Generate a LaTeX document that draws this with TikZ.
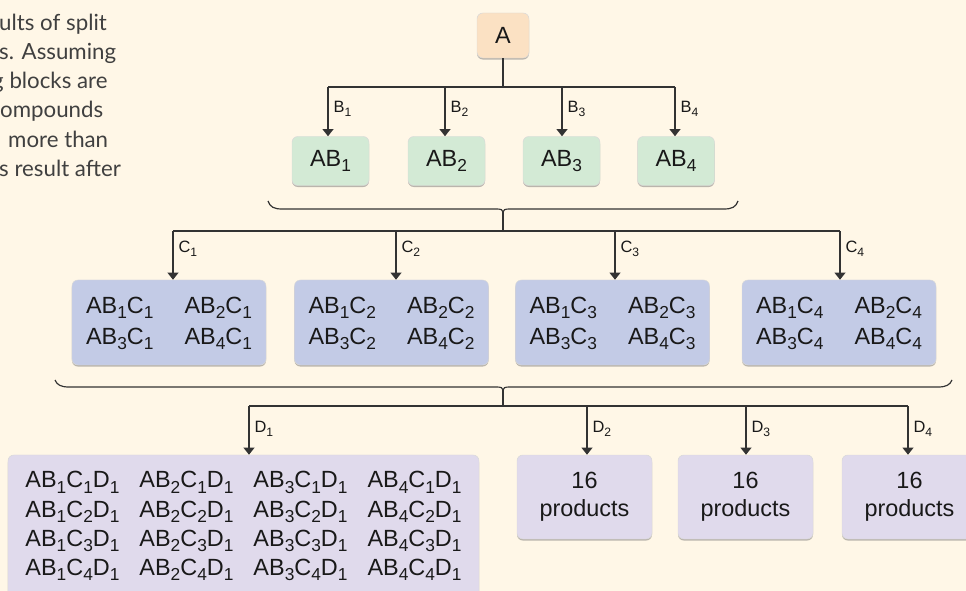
\documentclass[tikz,border=0pt]{standalone}
\usepackage{fontspec}
\usepackage{graphicx}
\setmainfont{Liberation Sans}
\newfontfamily\capfont{Lato}
\usetikzlibrary{arrows.meta,shadows}

\definecolor{bgCream}{HTML}{FFF7E7}
\definecolor{boxPeach}{HTML}{FBE1C3}
\definecolor{boxGreen}{HTML}{D3EAD5}
\definecolor{boxBlue}{HTML}{C3CBE6}
\definecolor{boxLilac}{HTML}{E0DAEC}
\definecolor{lineGray}{HTML}{333333}
\definecolor{capGray}{HTML}{404040}

\newcommand{\sub}[1]{\raisebox{-0.42ex}{\scalebox{0.74}{#1}}}

\tikzset{
    box/.style={rounded corners=5pt, draw=black!15, line width=0.4pt, inner sep=0pt,
        align=center, text=black!90, font=\fontsize{20}{24}\selectfont,
        drop shadow={shadow xshift=0pt, shadow yshift=-1.3pt, opacity=0.45, fill=black!60}},
    wire/.style={lineGray, line width=1.5pt},
    arrowline/.style={wire, -{Triangle[width=9pt,length=6pt]}},
    bracelinha/.style={lineGray, line width=1pt},
    lbl/.style={right=4pt, inner sep=0pt, text=black!90, font=\fontsize{14}{16}\selectfont},
    captext/.style={anchor=base west, inner sep=0pt, text=capGray, font=\capfont\fontsize{19}{22}\selectfont}
}

\begin{document}
\begin{tikzpicture}[x=0.03cm, y=-0.03cm]
        \useasboundingbox (0,0) rectangle (966,591);
        \clip (0,0) rectangle (966,591);
        \fill[bgCream] (0,0) rectangle (966,591);

        % Resto da legenda, cortado na margem.
        \node[captext] (cap1) at (-1,31) {ults of split};
        \node[captext] (cap2) at (-1,60) {s. Assuming};
        \node[captext] (cap3) at (-8,89) {g blocks are};
        \node[captext] (cap4) at (0,118) {ompounds};
        \node[captext] (cap5) at (8,148) {more than};
        \node[captext] (cap6) at (-1,177) {s result after};

        % Composto inicial e primeira etapa.
        \node[box, fill=boxPeach, minimum width=1.56cm, minimum height=1.35cm] (A) at (503,35.5) {A};
        \node[box, fill=boxGreen, minimum width=2.31cm, minimum height=1.47cm] (AB1) at (330.5,161) {AB\sub1};
        \node[box, fill=boxGreen, minimum width=2.31cm, minimum height=1.47cm] (AB2) at (446.5,161) {AB\sub2};
        \node[box, fill=boxGreen, minimum width=2.31cm, minimum height=1.47cm] (AB3) at (561.5,161) {AB\sub3};
        \node[box, fill=boxGreen, minimum width=2.31cm, minimum height=1.47cm] (AB4) at (676,161) {AB\sub4};

        \coordinate (b1) at (328,87);
        \coordinate (b2) at (445,87);
        \coordinate (b3) at (562,87);
        \coordinate (b4) at (675,87);
        \draw[wire] (A.south) -- (A.south |- b1);
        \draw[wire] (b1) -- (b4);
        \draw[arrowline] (b1) -- (b1 |- AB1.north) node[lbl, pos=0.45] {B\sub1};
        \draw[arrowline] (b2) -- (b2 |- AB2.north) node[lbl, pos=0.45] {B\sub2};
        \draw[arrowline] (b3) -- (b3 |- AB3.north) node[lbl, pos=0.45] {B\sub3};
        \draw[arrowline] (b4) -- (b4 |- AB4.north) node[lbl, pos=0.45] {B\sub4};

        % Chave sob a primeira etapa.
        \coordinate (tipB) at (503,212);
        \coordinate (c0) at (503,231);
        \draw[bracelinha] (268,201) .. controls (270,207) and (274,209) .. (282,209) -- (497,209)
            .. controls (501,209) and (503,210) .. (tipB)
            .. controls (503,210) and (505,209) .. (509,209) -- (724,209)
            .. controls (732,209) and (736,207) .. (738,201);
        \draw[wire] (tipB) -- (c0);

        % Segunda etapa.
        \node[box, fill=boxBlue, minimum width=5.82cm, minimum height=2.55cm,
            font=\fontsize{20}{26.5}\selectfont] (C1) at (169,322.5)
            {\begin{tabular}{@{}l@{\hspace{0.93cm}}l@{}}AB\sub1C\sub1 & AB\sub2C\sub1\\ AB\sub3C\sub1 & AB\sub4C\sub1\end{tabular}};
        \node[box, fill=boxBlue, minimum width=5.82cm, minimum height=2.55cm,
            font=\fontsize{20}{26.5}\selectfont] (C2) at (391.5,322.5)
            {\begin{tabular}{@{}l@{\hspace{0.93cm}}l@{}}AB\sub1C\sub2 & AB\sub2C\sub2\\ AB\sub3C\sub2 & AB\sub4C\sub2\end{tabular}};
        \node[box, fill=boxBlue, minimum width=5.82cm, minimum height=2.55cm,
            font=\fontsize{20}{26.5}\selectfont] (C3) at (612.5,322.5)
            {\begin{tabular}{@{}l@{\hspace{0.93cm}}l@{}}AB\sub1C\sub3 & AB\sub2C\sub3\\ AB\sub3C\sub3 & AB\sub4C\sub3\end{tabular}};
        \node[box, fill=boxBlue, minimum width=5.82cm, minimum height=2.55cm,
            font=\fontsize{20}{26.5}\selectfont] (C4) at (839,322.5)
            {\begin{tabular}{@{}l@{\hspace{0.93cm}}l@{}}AB\sub1C\sub4 & AB\sub2C\sub4\\ AB\sub3C\sub4 & AB\sub4C\sub4\end{tabular}};

        \coordinate (c1) at (173,231);
        \coordinate (c2) at (396,231);
        \coordinate (c3) at (615,231);
        \coordinate (c4) at (840,231);
        \draw[wire] (c1) -- (c4);
        \draw[arrowline] (c1) -- (c1 |- C1.north) node[lbl, pos=0.36] {C\sub1};
        \draw[arrowline] (c2) -- (c2 |- C2.north) node[lbl, pos=0.36] {C\sub2};
        \draw[arrowline] (c3) -- (c3 |- C3.north) node[lbl, pos=0.36] {C\sub3};
        \draw[arrowline] (c4) -- (c4 |- C4.north) node[lbl, pos=0.36] {C\sub4};

        % Chave sob a segunda etapa.
        \coordinate (tipC) at (503,390);
        \coordinate (d0) at (503,406);
        \draw[bracelinha] (55,380) .. controls (57,385) and (61,387) .. (69,387) -- (497,387)
            .. controls (501,387) and (503,388) .. (tipC)
            .. controls (503,388) and (505,387) .. (509,387) -- (938,387)
            .. controls (946,387) and (950,385) .. (952,380);
        \draw[wire] (tipC) -- (d0);

        % Terceira etapa.
        \node[box, fill=boxLilac, minimum width=14.13cm, minimum height=4.26cm,
            font=\fontsize{20}{25}\selectfont] (D1) at (243.5,526)
            {\begin{tabular}{@{}l@{\hspace{0.6cm}}l@{\hspace{0.6cm}}l@{\hspace{0.6cm}}l@{}}
            AB\sub1C\sub1D\sub1 & AB\sub2C\sub1D\sub1 & AB\sub3C\sub1D\sub1 & AB\sub4C\sub1D\sub1\\
            AB\sub1C\sub2D\sub1 & AB\sub2C\sub2D\sub1 & AB\sub3C\sub2D\sub1 & AB\sub4C\sub2D\sub1\\
            AB\sub1C\sub3D\sub1 & AB\sub2C\sub3D\sub1 & AB\sub3C\sub3D\sub1 & AB\sub4C\sub3D\sub1\\
            AB\sub1C\sub4D\sub1 & AB\sub2C\sub4D\sub1 & AB\sub3C\sub4D\sub1 & AB\sub4C\sub4D\sub1
            \end{tabular}};
        \node[box, fill=boxLilac, minimum width=4.05cm, minimum height=2.52cm] (D2) at (584.5,497) {16\\products};
        \node[box, fill=boxLilac, minimum width=4.05cm, minimum height=2.52cm] (D3) at (745.5,497) {16\\products};
        \node[box, fill=boxLilac, minimum width=4.05cm, minimum height=2.52cm] (D4) at (909.5,497) {16\\products};

        \coordinate (d1) at (249,406);
        \coordinate (d2) at (587,406);
        \coordinate (d3) at (746,406);
        \coordinate (d4) at (908,406);
        \draw[wire] (d1) -- (d4);
        \draw[arrowline] (d1) -- (d1 |- D1.north) node[lbl, pos=0.47] {D\sub1};
        \draw[arrowline] (d2) -- (d2 |- D2.north) node[lbl, pos=0.47] {D\sub2};
        \draw[arrowline] (d3) -- (d3 |- D3.north) node[lbl, pos=0.47] {D\sub3};
        \draw[arrowline] (d4) -- (d4 |- D4.north) node[lbl, pos=0.47] {D\sub4};
    \end{tikzpicture}
\end{document}
